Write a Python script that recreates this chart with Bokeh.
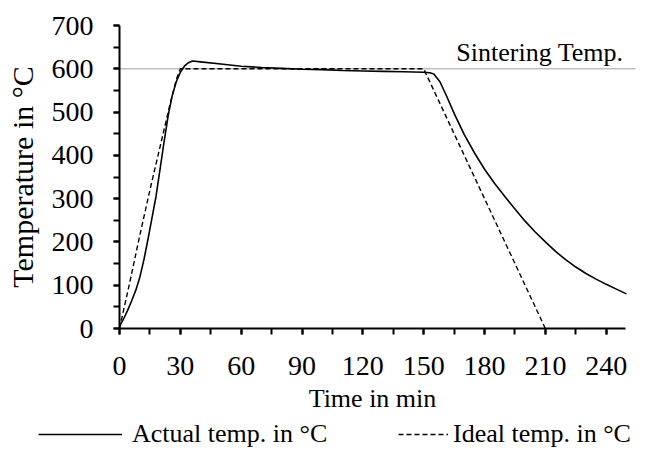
from bokeh.plotting import figure
from bokeh.models import Range1d, SingleIntervalTicker, Label, Legend, LegendItem
from bokeh.embed import file_html
from bokeh.resources import INLINE

# ---- data ----
time_actual = [0, 2, 4, 6, 8, 10, 12, 14, 16, 18, 20, 22, 24, 26, 28, 30, 32, 34, 36,
               40, 50, 60, 70, 80, 90, 100, 110, 120, 130, 140, 150, 153, 155, 158, 161,
               165, 170, 175, 180, 185, 190, 195, 200, 205, 210, 215, 220, 225, 230,
               235, 240, 245, 250]
temp_actual = [5, 22, 42, 64, 88, 118, 158, 205, 255, 305, 368, 432, 492, 538, 570, 592,
               606, 614, 618, 616, 611, 606, 603, 601, 599, 598, 596, 595, 594, 593, 592,
               591, 588, 570, 540, 497, 448, 406, 368, 335, 305, 276, 248, 223, 200, 178,
               159, 142, 127, 114, 102, 91, 80]

time_ideal = [0, 5, 10, 15, 20, 25, 28, 30, 150, 210]
temp_ideal = [0, 105, 215, 320, 420, 520, 575, 600, 600, 0]

sintering_temp = 600
sintering_label = "Sintering Temp."
x_title = "Time in min"
y_title = "Temperature in °C"
series_names = ["Actual temp. in °C", "Ideal temp. in °C"]

# ---- layout constants (pixels) ----
W, H = 637, 447
AX_X0, AX_Y0 = 119, 328          # pixel position of the data origin
PX_PER_MIN = 507 / 250
PX_PER_DEG = 303 / 700
X_AXIS_END = 249.5               # minutes where the x axis line stops
X_LINE_END = 254.4               # minutes where the grey sintering line stops

FONT = "Liberation Serif"
TICK_FS = "28px"
FS = "26px"
YTITLE_FS = "30px"

x_range = Range1d(-AX_X0 / PX_PER_MIN, (W - AX_X0) / PX_PER_MIN)
y_range = Range1d(-(H - AX_Y0) / PX_PER_DEG, AX_Y0 / PX_PER_DEG)

p = figure(width=W, height=H, output_backend="svg", toolbar_location=None,
           x_range=x_range, y_range=y_range,
           min_border_left=0, min_border_right=0, min_border_top=0,
           min_border_bottom=0)
p.outline_line_color = None
p.xgrid.grid_line_color = None
p.ygrid.grid_line_color = None
p.background_fill_color = "white"
p.border_fill_color = "white"

p.xaxis.ticker = SingleIntervalTicker(interval=30, num_minor_ticks=2)
p.yaxis.ticker = SingleIntervalTicker(interval=100, num_minor_ticks=2)
p.xaxis.fixed_location = 0
p.yaxis.fixed_location = 0
p.xaxis.bounds = (0, X_AXIS_END)
p.yaxis.bounds = (0, 700)
for ax in (p.xaxis[0], p.yaxis[0]):
    ax.axis_line_width = 2
    ax.axis_line_color = "black"
    ax.major_tick_line_width = 2
    ax.minor_tick_line_width = 2
    ax.major_tick_line_color = "black"
    ax.minor_tick_line_color = "black"
    ax.major_tick_in = 0
    ax.major_tick_out = 6
    ax.minor_tick_in = 0
    ax.minor_tick_out = 6
    ax.major_label_text_font = FONT
    ax.major_label_text_font_size = TICK_FS
    ax.major_label_text_color = "black"
    ax.axis_label_text_font = FONT
    ax.axis_label_text_font_size = FS
    ax.axis_label_text_font_style = "normal"
    ax.axis_label_text_color = "black"
p.yaxis.axis_label_text_font_size = YTITLE_FS
p.xaxis.axis_label = x_title
p.yaxis.axis_label = y_title
p.xaxis.major_label_standoff = 22
p.yaxis.major_label_standoff = 20
p.xaxis.axis_label_standoff = 6
p.yaxis.axis_label_standoff = 10

# grey sintering-temperature line and its label
p.segment(x0=[0], y0=[sintering_temp], x1=[X_LINE_END], y1=[sintering_temp],
          line_color="#BFBFBF", line_width=1.5)
p.add_layout(Label(x=248.5, y=sintering_temp, y_offset=2, text=sintering_label,
                   text_align="right", text_baseline="bottom",
                   text_font=FONT, text_font_size=FS, text_color="black"))

r_actual = p.line(time_actual, temp_actual, line_color="black", line_width=1.6)
r_ideal = p.line(time_ideal, temp_ideal, line_color="black", line_width=1.4,
                 line_dash="5 3")


def make_legend(item, loc, gw, standoff):
    return Legend(items=[item], location=loc, orientation="horizontal",
                  glyph_width=gw, glyph_height=20, label_standoff=standoff,
                  padding=0, margin=0, border_line_color=None,
                  background_fill_alpha=0, label_text_font=FONT,
                  label_text_font_size=FS, label_text_color="black")


p.add_layout(make_legend(LegendItem(label=series_names[0], renderers=[r_actual]),
                         (38, -2), 84, 10))
p.add_layout(make_legend(LegendItem(label=series_names[1], renderers=[r_ideal]),
                         (398, -2), 50, 5))

open("out.html", "w").write(file_html(p, INLINE))
